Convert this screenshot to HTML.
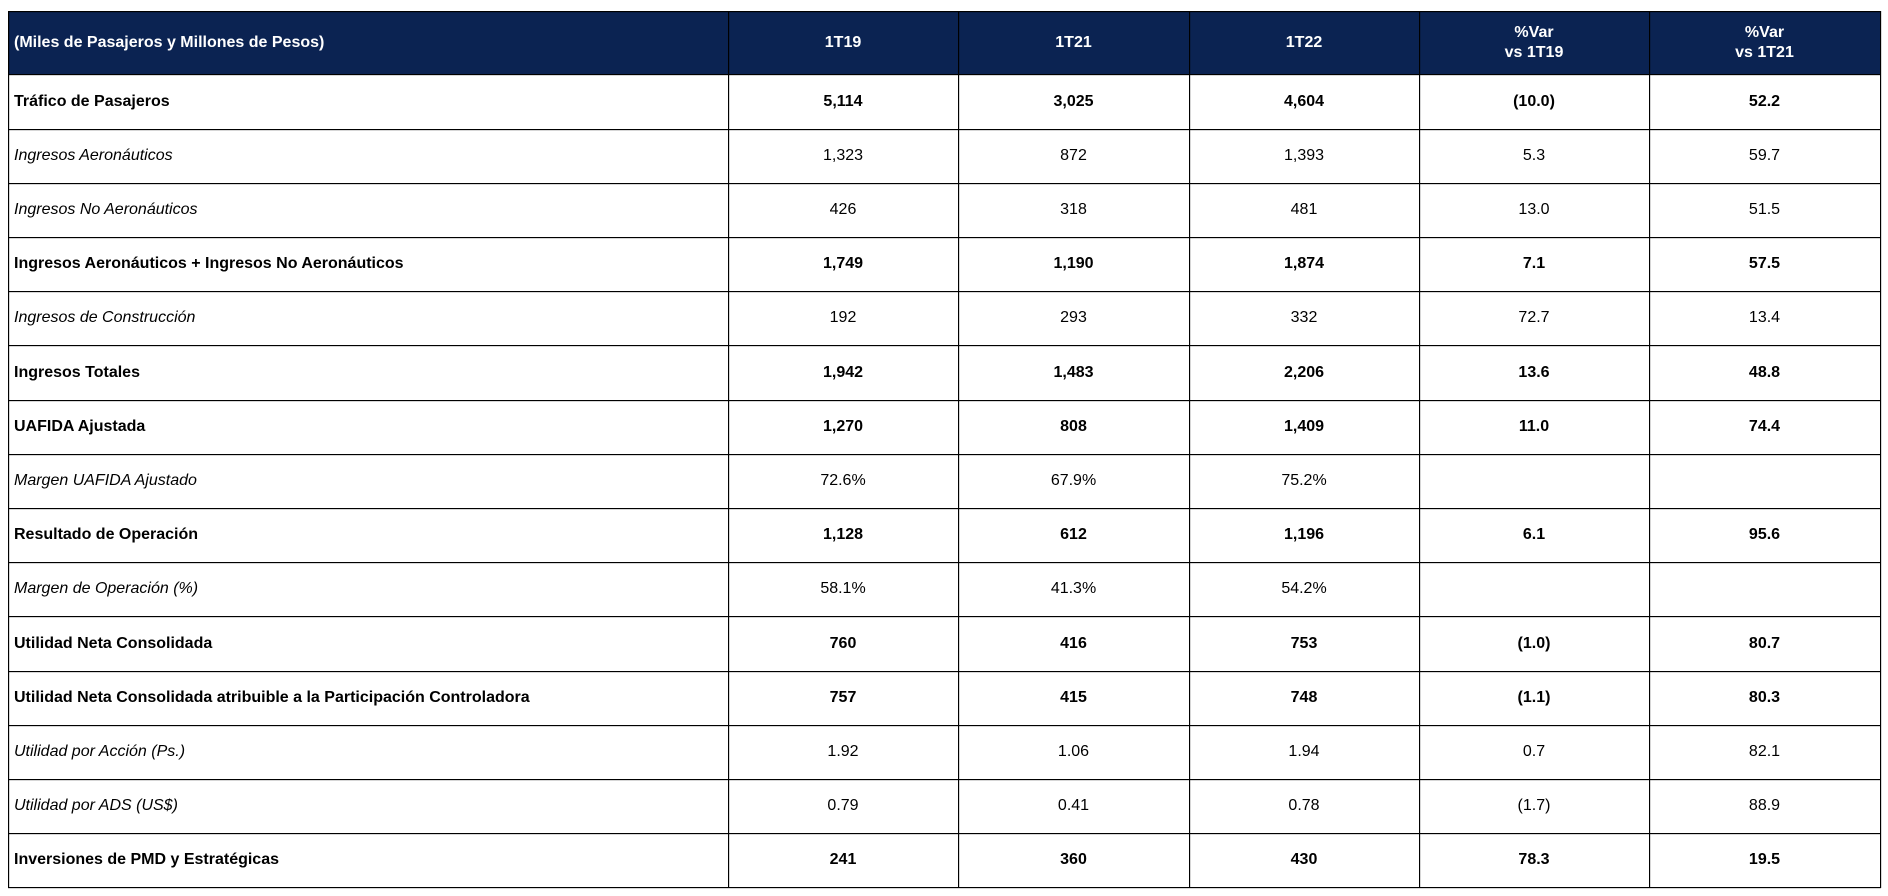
<!DOCTYPE html>
<html>
<head>
<meta charset="utf-8">
<style>
  html,body{margin:0;padding:0;background:#fff;}
  body{width:1888px;height:896px;position:relative;overflow:hidden;font-family:"Liberation Sans",Arial,sans-serif;font-size:16px;color:#000;}
  .hdr{position:absolute;left:8px;top:11px;width:1872px;height:63px;background:#0b2352;}
  .row{position:absolute;left:8px;width:1872px;display:flex;align-items:center;}
  .row div{text-align:center;}
  .row div:first-child{text-align:left;padding-left:6px;box-sizing:border-box;}
  .c0{width:720px;} .c1{width:230px;} .c2{width:231px;} .c3{width:230px;} .c4{width:230px;} .c5{width:231px;}
  .b{font-weight:bold;}
  .i div:first-child{font-style:italic;}
  .h{color:#fff;font-weight:bold;line-height:19.5px;}
  .v{position:absolute;top:11px;height:877px;width:1px;background:#000;box-shadow:0.4px 0 0 rgba(0,0,0,0.4);}
  .hl{position:absolute;left:8px;width:1873px;height:1px;background:#000;box-shadow:0 0.4px 0 rgba(0,0,0,0.4);}
</style>
</head>
<body>
<div class="hdr"></div>

<div class="row h" style="top:11px;height:63px;">
  <div class="c0">(Miles de Pasajeros y Millones de Pesos)</div>
  <div class="c1">1T19</div><div class="c2">1T21</div><div class="c3">1T22</div>
  <div class="c4">%Var<br>vs 1T19</div><div class="c5">%Var<br>vs 1T21</div>
</div>

<div class="row b" style="top:74px;height:55px;"><div class="c0">Tráfico de Pasajeros</div><div class="c1">5,114</div><div class="c2">3,025</div><div class="c3">4,604</div><div class="c4">(10.0)</div><div class="c5">52.2</div></div>
<div class="row i" style="top:129px;height:54px;"><div class="c0">Ingresos Aeronáuticos</div><div class="c1">1,323</div><div class="c2">872</div><div class="c3">1,393</div><div class="c4">5.3</div><div class="c5">59.7</div></div>
<div class="row i" style="top:183px;height:54px;"><div class="c0">Ingresos No Aeronáuticos</div><div class="c1">426</div><div class="c2">318</div><div class="c3">481</div><div class="c4">13.0</div><div class="c5">51.5</div></div>
<div class="row b" style="top:237px;height:54px;"><div class="c0">Ingresos Aeronáuticos + Ingresos No Aeronáuticos</div><div class="c1">1,749</div><div class="c2">1,190</div><div class="c3">1,874</div><div class="c4">7.1</div><div class="c5">57.5</div></div>
<div class="row i" style="top:291px;height:54px;"><div class="c0">Ingresos de Construcción</div><div class="c1">192</div><div class="c2">293</div><div class="c3">332</div><div class="c4">72.7</div><div class="c5">13.4</div></div>
<div class="row b" style="top:345px;height:55px;"><div class="c0">Ingresos Totales</div><div class="c1">1,942</div><div class="c2">1,483</div><div class="c3">2,206</div><div class="c4">13.6</div><div class="c5">48.8</div></div>
<div class="row b" style="top:400px;height:54px;"><div class="c0">UAFIDA Ajustada</div><div class="c1">1,270</div><div class="c2">808</div><div class="c3">1,409</div><div class="c4">11.0</div><div class="c5">74.4</div></div>
<div class="row i" style="top:454px;height:54px;"><div class="c0">Margen UAFIDA Ajustado</div><div class="c1">72.6%</div><div class="c2">67.9%</div><div class="c3">75.2%</div><div class="c4"></div><div class="c5"></div></div>
<div class="row b" style="top:508px;height:54px;"><div class="c0">Resultado de Operación</div><div class="c1">1,128</div><div class="c2">612</div><div class="c3">1,196</div><div class="c4">6.1</div><div class="c5">95.6</div></div>
<div class="row i" style="top:562px;height:54px;"><div class="c0">Margen de Operación (%)</div><div class="c1">58.1%</div><div class="c2">41.3%</div><div class="c3">54.2%</div><div class="c4"></div><div class="c5"></div></div>
<div class="row b" style="top:616px;height:55px;"><div class="c0">Utilidad Neta Consolidada</div><div class="c1">760</div><div class="c2">416</div><div class="c3">753</div><div class="c4">(1.0)</div><div class="c5">80.7</div></div>
<div class="row b" style="top:671px;height:54px;"><div class="c0">Utilidad Neta Consolidada atribuible a la Participación Controladora</div><div class="c1">757</div><div class="c2">415</div><div class="c3">748</div><div class="c4">(1.1)</div><div class="c5">80.3</div></div>
<div class="row i" style="top:725px;height:54px;"><div class="c0">Utilidad por Acción (Ps.)</div><div class="c1">1.92</div><div class="c2">1.06</div><div class="c3">1.94</div><div class="c4">0.7</div><div class="c5">82.1</div></div>
<div class="row i" style="top:779px;height:54px;"><div class="c0">Utilidad por ADS (US$)</div><div class="c1">0.79</div><div class="c2">0.41</div><div class="c3">0.78</div><div class="c4">(1.7)</div><div class="c5">88.9</div></div>
<div class="row b" style="top:833px;height:54px;"><div class="c0">Inversiones de PMD y Estratégicas</div><div class="c1">241</div><div class="c2">360</div><div class="c3">430</div><div class="c4">78.3</div><div class="c5">19.5</div></div>

<!-- horizontal lines -->
<div class="hl" style="top:11px"></div>
<div class="hl" style="top:74px"></div>
<div class="hl" style="top:129px"></div>
<div class="hl" style="top:183px"></div>
<div class="hl" style="top:237px"></div>
<div class="hl" style="top:291px"></div>
<div class="hl" style="top:345px"></div>
<div class="hl" style="top:400px"></div>
<div class="hl" style="top:454px"></div>
<div class="hl" style="top:508px"></div>
<div class="hl" style="top:562px"></div>
<div class="hl" style="top:616px"></div>
<div class="hl" style="top:671px"></div>
<div class="hl" style="top:725px"></div>
<div class="hl" style="top:779px"></div>
<div class="hl" style="top:833px"></div>
<div class="hl" style="top:887px"></div>

<!-- vertical lines -->
<div class="v" style="left:8px"></div>
<div class="v" style="left:728px"></div>
<div class="v" style="left:958px"></div>
<div class="v" style="left:1189px"></div>
<div class="v" style="left:1419px"></div>
<div class="v" style="left:1649px"></div>
<div class="v" style="left:1880px"></div>
</body>
</html>
